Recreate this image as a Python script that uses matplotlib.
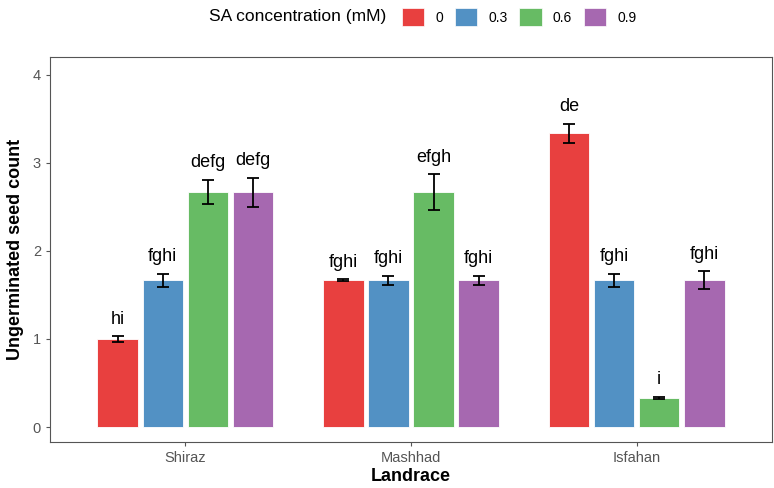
import matplotlib
matplotlib.use("Agg")
import matplotlib.pyplot as plt
from matplotlib.patches import Patch
import numpy as np

landraces = ["Shiraz", "Mashhad", "Isfahan"]
conc = ["0", "0.3", "0.6", "0.9"]
colors = ["#E8403F", "#5291C4", "#67BB64", "#A668B0"]

# rows = SA concentration, columns = landrace
means = [
    [1.0, 1.667, 3.333],
    [1.667, 1.667, 1.667],
    [2.667, 2.667, 0.333],
    [2.667, 1.667, 1.667],
]
errs = [
    [0.03, 0.01, 0.11],
    [0.075, 0.05, 0.075],
    [0.14, 0.2, 0.01],
    [0.165, 0.05, 0.1],
]
letters = [
    ["hi", "fghi", "de"],
    ["fghi", "fghi", "fghi"],
    ["defg", "efgh", "i"],
    ["defg", "fghi", "fghi"],
]

plt.rcParams['font.family'] = ['Liberation Sans', 'DejaVu Sans']

fig = plt.figure(figsize=(7.74, 4.88), dpi=100)
ax = fig.add_axes([50 / 774, 46 / 488, 722 / 774, 385 / 488])

x = np.arange(len(landraces))
slot = 0.2
width = 0.18
for i, c in enumerate(conc):
    pos = x + (i - 1.5) * slot
    ax.bar(pos, means[i], width=width, color=colors[i], edgecolor='white',
           linewidth=0.6, zorder=2)
    ax.errorbar(pos, means[i], yerr=errs[i], fmt='none', ecolor='black',
                elinewidth=1.3, capsize=4.5, capthick=1.3, zorder=3)
    for j in range(len(landraces)):
        ax.text(pos[j], means[i][j] + errs[i][j] + 0.14, letters[i][j],
                ha='center', va='baseline', fontsize=13, color='black')

ax.set_xlim(-0.6, 2.6)
ax.set_ylim(-0.17, 4.2)
ax.set_xticks(x)
ax.set_xticklabels(landraces)
ax.set_yticks([0, 1, 2, 3, 4])
for s in ax.spines.values():
    s.set_color('#555555')
    s.set_linewidth(0.8)
ax.tick_params(colors='#555555', labelcolor='#555555', labelsize=10.5,
               length=3, width=0.8)
ax.set_xlabel("Landrace", fontsize=13, fontweight='bold', labelpad=2)
ax.set_ylabel("Ungerminated seed count", fontsize=13, fontweight='bold',
              labelpad=6)

handles = [Patch(facecolor=colors[i], edgecolor='white', linewidth=0.5)
           for i in range(4)]
fig.text(209 / 774, 1 - 17 / 488, "SA concentration (mM)", fontsize=12.5,
         va='center', ha='left')
fig.legend(handles, conc, loc='center left', bbox_to_anchor=(402 / 774, 1 - 17 / 488),
           ncol=4, frameon=False, fontsize=10, handlelength=1.6,
           handleheight=1.6, handletextpad=0.8, columnspacing=0.85,
           borderaxespad=0, borderpad=0)

fig.savefig("out.png", dpi=100)
